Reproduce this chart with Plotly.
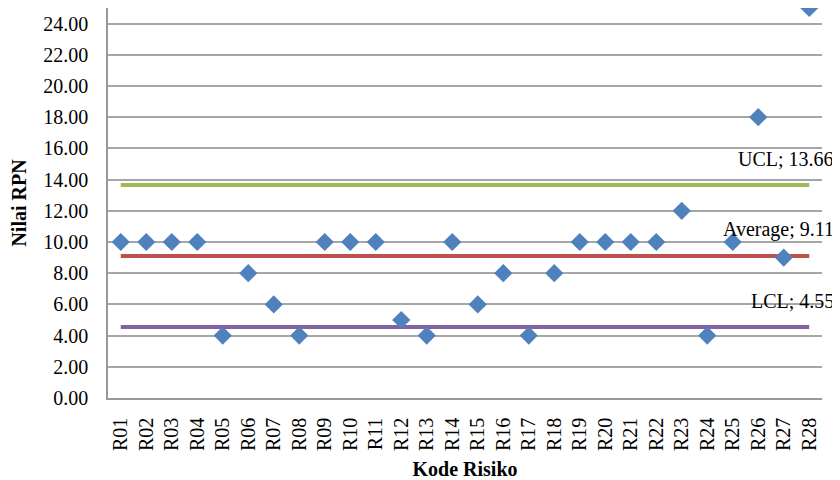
import plotly.graph_objects as go

categories = [f"R{i:02d}" for i in range(1, 29)]
rpn = [10, 10, 10, 10, 4, 8, 6, 4, 10, 10, 10, 5, 4, 10, 6, 8, 4, 8, 10, 10, 10, 10, 12, 4, 10, 18, 9, 25]
ucl = 13.66
average = 9.11
lcl = 4.55
y_ticks = [0, 2, 4, 6, 8, 10, 12, 14, 16, 18, 20, 22, 24]

font_family = "Liberation Serif, Times New Roman, serif"

fig = go.Figure()
for name, val, color in [("UCL", ucl, "#9BBB59"), ("Average", average, "#C0504D"), ("LCL", lcl, "#8064A2")]:
    fig.add_trace(go.Scatter(x=categories, y=[val] * len(categories), mode="lines",
                             line=dict(color=color, width=4), showlegend=False, hoverinfo="skip"))
    fig.add_annotation(x=1, xref="paper", y=val, yref="y", text=f"{name}; {val:.2f}",
                       showarrow=False, xanchor="right", yanchor="middle", xshift=14, yshift=26,
                       font=dict(family=font_family, size=20, color="#000000"))

fig.add_trace(go.Scatter(x=categories, y=rpn, mode="markers",
                         marker=dict(symbol="diamond", size=14, color="#4F81BD"),
                         showlegend=False, cliponaxis=False))

fig.update_layout(
    width=832, height=472,
    margin=dict(l=100, r=18, t=0, b=82),
    paper_bgcolor="white", plot_bgcolor="white",
    font=dict(family=font_family, size=20, color="#000000"),
)
fig.update_xaxes(
    type="category", tickangle=-90, showgrid=False, automargin=False,
    range=[-0.5, len(categories) - 0.5],
    tickmode="array", tickvals=categories, ticktext=categories,
    showline=True, linecolor="#999999", linewidth=1.5,
    ticks="", tickfont=dict(size=20), ticklabelstandoff=10,
    title=dict(text="<b>Kode Risiko</b>", font=dict(size=20), standoff=20),
)
fig.update_yaxes(
    range=[0, 25], tickvals=y_ticks, ticktext=[f"{v:.2f}" for v in y_ticks],
    showgrid=True, gridcolor="#A6A6A6", gridwidth=1.5, automargin=False,
    showline=True, linecolor="#999999", linewidth=1.5,
    ticks="", tickfont=dict(size=20), zeroline=False, ticklabelstandoff=14,
    title=dict(text="<b>Nilai RPN</b>", font=dict(size=20), standoff=33),
)

fig.write_html("out.html")
